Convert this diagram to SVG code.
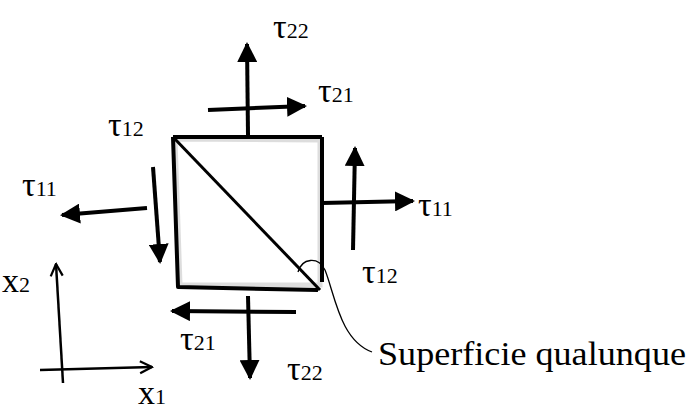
<svg xmlns="http://www.w3.org/2000/svg" width="690" height="416" viewBox="0 0 690 416">
<defs>
<marker id="ah" viewBox="0 0 10 10" refX="9" refY="5" markerWidth="5" markerHeight="5" orient="auto" markerUnits="strokeWidth">
<path d="M0,0 L10,5 L0,10 z" fill="#000"/>
</marker>
<marker id="oh" viewBox="0 0 10 10" refX="9" refY="5" markerWidth="6" markerHeight="6" orient="auto" markerUnits="strokeWidth">
<path d="M1,1 L9,5 L1,9" fill="none" stroke="#000" stroke-width="1.5"/>
</marker>
<style>
.lbl{font-family:"Liberation Serif","DejaVu Serif",serif;font-size:34px;fill:#000}
.sub{font-size:22px}
.arr{stroke:#000;stroke-width:4;fill:none;marker-end:url(#ah)}
.ax{stroke:#000;stroke-width:2.5;fill:none}
</style>
</defs>
<rect width="690" height="416" fill="#fff"/>
<g id="element">
<path d="M175,139 L320,140 L320,285 L180,285 Z" fill="none" stroke="#bbb" stroke-width="5" opacity="0.5"/>
<path d="M173,137 L322,137 M322,137 L322,282 M173,137 L178,287 L318,290" stroke="#000" stroke-width="4" fill="none" stroke-linejoin="round"/>
<path d="M173,137 L320,290" stroke="#000" stroke-width="3"/>
</g>
<g id="connectors">
<line class="arr" x1="248" y1="135" x2="247" y2="44"/>
<line class="arr" x1="208" y1="110" x2="305" y2="106"/>
<line class="arr" x1="147" y1="208" x2="62" y2="215"/>
<line class="arr" x1="153" y1="167" x2="160" y2="262"/>
<line class="arr" x1="322" y1="203" x2="413" y2="201"/>
<line class="arr" x1="353" y1="250" x2="355" y2="148"/>
<line class="arr" x1="296" y1="312" x2="172" y2="311"/>
<line class="arr" x1="248" y1="296" x2="250" y2="378"/>
<path d="M298,272 C302,258 318,256 325,270 C335,295 340,340 372,352" fill="none" stroke="#000" stroke-width="1.3"/>
</g>
<g id="axes">
<line class="ax" x1="63" y1="383" x2="56" y2="264" marker-end="url(#oh)"/>
<line class="ax" x1="40" y1="370" x2="152" y2="367" marker-end="url(#oh)"/>
</g>
<g id="labels">
<text class="lbl" x="273" y="38">τ<tspan class="sub">22</tspan></text>
<text class="lbl" x="318" y="102">τ<tspan class="sub">21</tspan></text>
<text class="lbl" x="108" y="136">τ<tspan class="sub">12</tspan></text>
<text class="lbl" x="22" y="196">τ<tspan class="sub">11</tspan></text>
<text class="lbl" x="418" y="216">τ<tspan class="sub">11</tspan></text>
<text class="lbl" x="362" y="283">τ<tspan class="sub">12</tspan></text>
<text class="lbl" x="180" y="350">τ<tspan class="sub">21</tspan></text>
<text class="lbl" x="287" y="380">τ<tspan class="sub">22</tspan></text>
<text class="lbl" x="2" y="292" font-size="30">x<tspan class="sub">2</tspan></text>
<text class="lbl" x="138" y="404" font-size="30">x<tspan class="sub">1</tspan></text>
<text class="lbl" x="378" y="365" font-size="32" textLength="308" lengthAdjust="spacingAndGlyphs">Superficie qualunque</text>
</g>
</svg>
